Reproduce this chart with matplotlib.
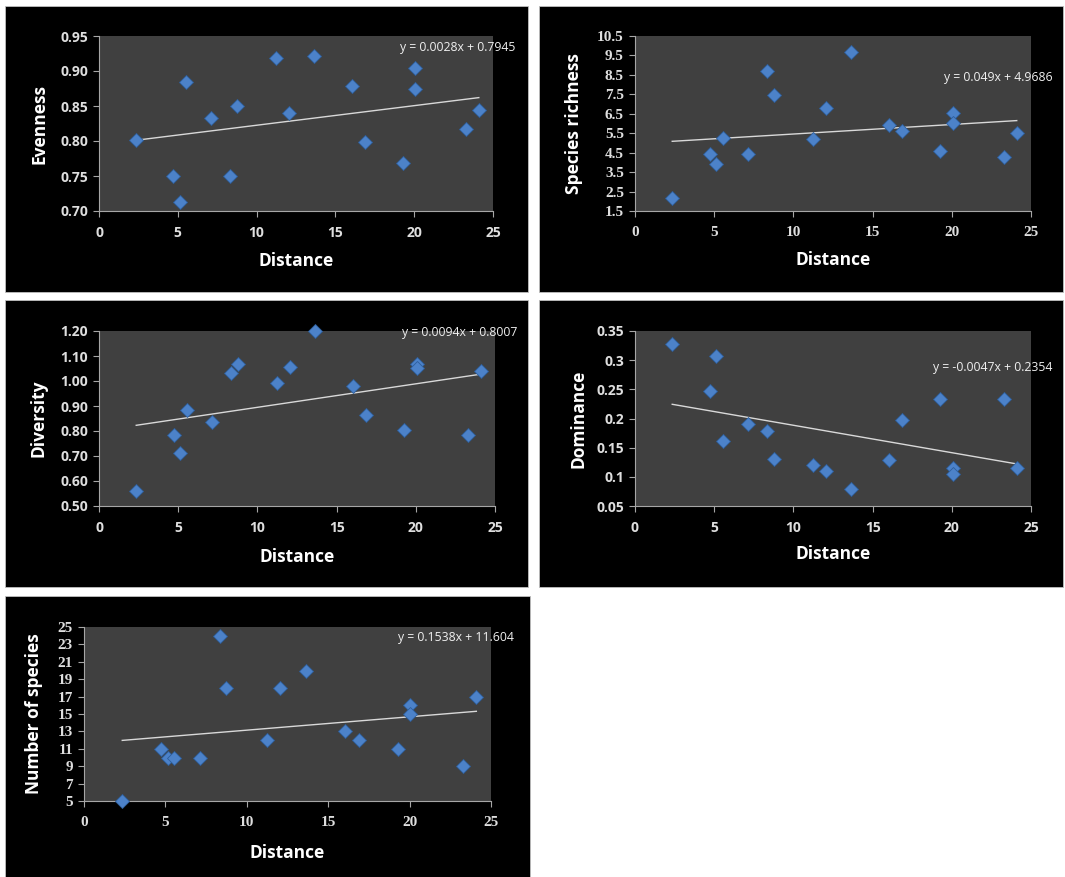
import matplotlib
matplotlib.use("Agg")
import matplotlib.pyplot as plt
import numpy as np
from matplotlib.patches import Rectangle

# Data
distance = [2.35, 4.72, 5.13, 5.55, 7.13, 8.33, 8.75, 11.22, 12.06, 13.65,
            16.06, 16.87, 19.27, 20.05, 20.05, 23.29, 24.10]
evenness = [0.801, 0.750, 0.713, 0.885, 0.833, 0.750, 0.850, 0.919, 0.840, 0.922,
            0.879, 0.799, 0.769, 0.905, 0.874, 0.817, 0.844]
richness = [2.16, 4.41, 3.91, 5.26, 4.45, 8.69, 7.48, 5.19, 6.78, 9.69,
            5.90, 5.62, 4.59, 6.53, 6.00, 4.26, 5.50]
diversity = [0.560, 0.783, 0.712, 0.885, 0.835, 1.033, 1.067, 0.993, 1.056, 1.200,
             0.981, 0.865, 0.803, 1.067, 1.052, 0.784, 1.039]
dominance = [0.327, 0.247, 0.308, 0.161, 0.191, 0.179, 0.130, 0.121, 0.110, 0.079,
             0.129, 0.197, 0.234, 0.116, 0.105, 0.234, 0.115]
n_species = [5, 11, 10, 10, 10, 24, 18, 12, 18, 20, 13, 12, 11, 16, 15, 9, 17]

# trend line coefficients (slope, intercept) as printed on the chart
slopes = [0.0028, 0.049, 0.0094, -0.0047, 0.1538]
intercepts = [0.7945, 4.9686, 0.8007, 0.2354, 11.604]
equations = ["y = 0.0028x + 0.7945", "y = 0.049x + 4.9686", "y = 0.0094x + 0.8007",
             "y = -0.0047x + 0.2354", "y = 0.1538x + 11.604"]
ylabels = ["Evenness", "Species richness", "Diversity", "Dominance", "Number of species"]
yticks = [np.arange(0.70, 0.951, 0.05), np.arange(1.5, 10.51, 1.0),
          np.arange(0.50, 1.201, 0.10), np.arange(0.05, 0.351, 0.05),
          np.arange(5, 26, 2)]
ytick_labels = [["%.2f" % v for v in yticks[0]],
                ["%.1f" % v for v in yticks[1]],
                ["%.2f" % v for v in yticks[2]],
                ["0.05", "0.1", "0.15", "0.2", "0.25", "0.3", "0.35"],
                ["%d" % v for v in yticks[4]]]
series = [evenness, richness, diversity, dominance, n_species]

W, H = 1065, 877
fig = plt.figure(figsize=(W / 100, H / 100), dpi=100)
fig.patch.set_facecolor("white")

# layout in pixels: black panel box, plot area box, label offsets
panels = [(5, 6, 528, 292), (539, 6, 1063, 292), (5, 300, 528, 587),
          (539, 300, 1063, 587), (5, 596, 530, 877)]
plot_areas = [(99, 36, 493, 211), (635, 36, 1031, 211), (99, 331, 495, 506),
              (635, 331, 1031, 506), (84, 627, 491, 801)]
eq_pos = [(0.764, 0.937), (0.78, 0.76), (0.765, 0.99), (0.753, 0.79), (0.771, 0.937)]
ylab_x = [-0.127, -0.131, -0.131, -0.121, -0.10]
xlab_y = [-0.235, -0.228, -0.24, -0.222, -0.247]
serif_ticks = [False, True, False, False, True]
sans = "Open Sans"

for i in range(5):
    x0, y0, x1, y1 = panels[i]
    fig.patches.append(Rectangle((x0 / W, 1 - y1 / H), (x1 - x0) / W, (y1 - y0) / H,
                                 transform=fig.transFigure, facecolor="black",
                                 edgecolor="#bfbfbf", linewidth=0.6, zorder=-10))

    px0, py0, px1, py1 = plot_areas[i]
    ax = fig.add_axes([px0 / W, 1 - py1 / H, (px1 - px0) / W, (py1 - py0) / H])
    ax.set_zorder(1)
    ax.set_facecolor("#404040")
    for s in ["top", "right"]:
        ax.spines[s].set_visible(False)
    for s in ["left", "bottom"]:
        ax.spines[s].set_color("#a6a6a6")
        ax.spines[s].set_linewidth(0.8)

    y = series[i]
    ax.plot(distance, y, linestyle="none", marker="D", markersize=7.3,
            markerfacecolor="#4c82c9", markeredgecolor="#2d5e9c",
            markeredgewidth=0.6, clip_on=False, zorder=3)

    xs = np.array([min(distance), max(distance)])
    ax.plot(xs, slopes[i] * xs + intercepts[i], color="#d9d9d9", linewidth=1.0, zorder=2)

    ax.set_xlim(0, 25)
    ax.set_xticks(np.arange(0, 26, 5))
    ax.set_ylim(yticks[i][0], yticks[i][-1])
    ax.set_yticks(yticks[i])

    tick_font = {"family": "Liberation Serif", "size": 11, "weight": "bold"} if serif_ticks[i] \
        else {"family": sans, "size": 10, "weight": "bold"}
    ax.set_yticklabels(ytick_labels[i], fontdict=tick_font, color="#dedede")
    ax.set_xticklabels([str(v) for v in range(0, 26, 5)], fontdict=tick_font, color="#dedede")
    ax.tick_params(axis="both", direction="out", length=4, width=0.8, color="#a6a6a6")
    ax.tick_params(axis="x", pad=7)
    ax.tick_params(axis="y", pad=4)

    ax.set_xlabel("Distance", family=sans, weight="bold", size=12.5, color="white")
    ax.set_ylabel(ylabels[i], family=sans, weight="bold", size=12.5, color="white")
    ax.xaxis.set_label_coords(0.5, xlab_y[i])
    ax.yaxis.set_label_coords(ylab_x[i], 0.5)

    ax.text(eq_pos[i][0], eq_pos[i][1], equations[i], transform=ax.transAxes,
            family=sans, size=8.8, color="#f0f0f0", va="center", ha="left",
            clip_on=False, zorder=4)

fig.savefig("out.png", dpi=100, facecolor="white")
